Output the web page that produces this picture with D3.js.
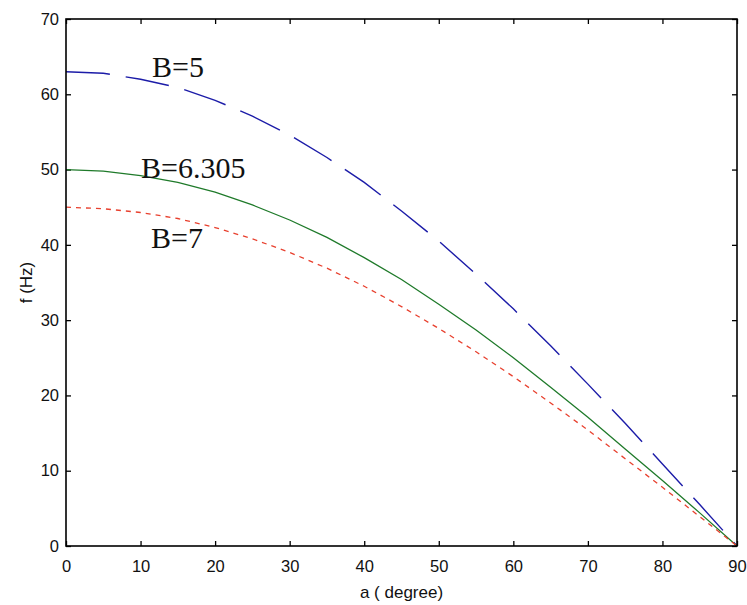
<!DOCTYPE html>
<html>
<head>
<meta charset="utf-8">
<script src="https://cdn.jsdelivr.net/npm/d3@7"></script>
<style>
  body { margin: 0; background: #fff; }
  svg text { font-family: "Liberation Sans", Arial, sans-serif; }
</style>
</head>
<body>
<div id="chart-area"></div>
<script>
// angle a (degree), read every 5 degrees
const angles = [0, 5, 10, 15, 20, 25, 30, 35, 40, 45, 50, 55, 60, 65, 70, 75, 80, 85, 90]
// f (Hz) for each curve
const fB5 = [63, 62.8, 62.0, 60.9, 59.2, 57.1, 54.6, 51.6, 48.3, 44.5, 40.5, 36.1, 31.5, 26.6, 21.5, 16.3, 10.9, 5.5, 0]
const fB6305 = [50, 49.8, 49.2, 48.3, 47.0, 45.3, 43.3, 41.0, 38.3, 35.4, 32.1, 28.7, 25.0, 21.1, 17.1, 12.9, 8.7, 4.4, 0]
const fB7 = [45, 44.8, 44.3, 43.5, 42.3, 40.8, 39.0, 36.9, 34.5, 31.8, 28.9, 25.8, 22.5, 19.0, 15.4, 11.6, 7.8, 3.9, 0]
const xTicks = [0, 10, 20, 30, 40, 50, 60, 70, 80, 90]
const yTicks = [0, 10, 20, 30, 40, 50, 60, 70]

const MARGIN = {LEFT: 66, RIGHT: 10, TOP: 19, BOTTOM: 59}
const WIDTH = 747 - MARGIN.LEFT - MARGIN.RIGHT
const HEIGHT = 605 - MARGIN.TOP - MARGIN.BOTTOM

const svg = d3.select("#chart-area").append("svg")
  .attr("width", 747)
  .attr("height", 605)

const g = svg.append("g")
  .attr("transform", `translate(${MARGIN.LEFT}, ${MARGIN.TOP})`)

const x = d3.scaleLinear().domain([0, 90]).range([0, WIDTH])
const y = d3.scaleLinear().domain([0, 70]).range([HEIGHT, 0])

// axes, ticks pointing inward on all four sides
const axisStyle = sel => {
  sel.select(".domain").remove()
  sel.selectAll(".tick line").attr("stroke", "#000").attr("stroke-width", 1.3)
  sel.selectAll(".tick text").attr("font-size", "16.5px").attr("fill", "#111")
}

g.append("g")
  .attr("transform", `translate(0, ${HEIGHT})`)
  .call(d3.axisBottom(x).tickValues(xTicks).tickSizeInner(-5).tickPadding(14).tickFormat(d3.format("d")))
  .call(axisStyle)

g.append("g")
  .call(d3.axisTop(x).tickValues(xTicks).tickSizeInner(-5).tickFormat(""))
  .call(axisStyle)

g.append("g")
  .call(d3.axisLeft(y).tickValues(yTicks).tickSizeInner(-5).tickPadding(7).tickFormat(d3.format("d")))
  .call(axisStyle)

g.append("g")
  .attr("transform", `translate(${WIDTH}, 0)`)
  .call(d3.axisRight(y).tickValues(yTicks).tickSizeInner(-5).tickFormat(""))
  .call(axisStyle)

// curves
const series = [
  {name: "B=5", values: fB5, color: "#1c1ca8", dash: "44,16", width: 1.4},
  {name: "B=6.305", values: fB6305, color: "#1f7a2a", dash: null, width: 1.3},
  {name: "B=7", values: fB7, color: "#e8402e", dash: "5,5", width: 1.3}
]

const line = d3.line()
  .x(d => x(d[0]))
  .y(d => y(d[1]))

series.forEach(s => {
  g.append("path")
    .datum(angles.map((a, i) => [a, s.values[i]]))
    .attr("fill", "none")
    .attr("stroke", s.color)
    .attr("stroke-width", s.width)
    .attr("stroke-dasharray", s.dash)
    .attr("d", line)
})

// frame
g.append("rect")
  .attr("width", WIDTH)
  .attr("height", HEIGHT)
  .attr("fill", "none")
  .attr("stroke", "#000")
  .attr("stroke-width", 1.6)

// curve labels
const labels = [
  {text: "B=5", x: 86, y: 58},
  {text: "B=6.305", x: 75, y: 159},
  {text: "B=7", x: 85, y: 229}
]
labels.forEach(l => {
  g.append("text")
    .attr("x", l.x)
    .attr("y", l.y)
    .style("font-family", "'Liberation Serif', 'Times New Roman', serif")
    .attr("font-size", "30px")
    .attr("fill", "#111")
    .text(l.text)
})

// axis labels
g.append("text")
  .attr("x", WIDTH / 2)
  .attr("y", HEIGHT + 52)
  .attr("text-anchor", "middle")
  .attr("font-size", "17px")
  .attr("fill", "#111")
  .text("a ( degree)")

g.append("text")
  .attr("transform", "rotate(-90)")
  .attr("x", -HEIGHT / 2)
  .attr("y", -34)
  .attr("text-anchor", "middle")
  .attr("font-size", "17px")
  .attr("fill", "#111")
  .text("f (Hz)")
</script>
</body>
</html>
